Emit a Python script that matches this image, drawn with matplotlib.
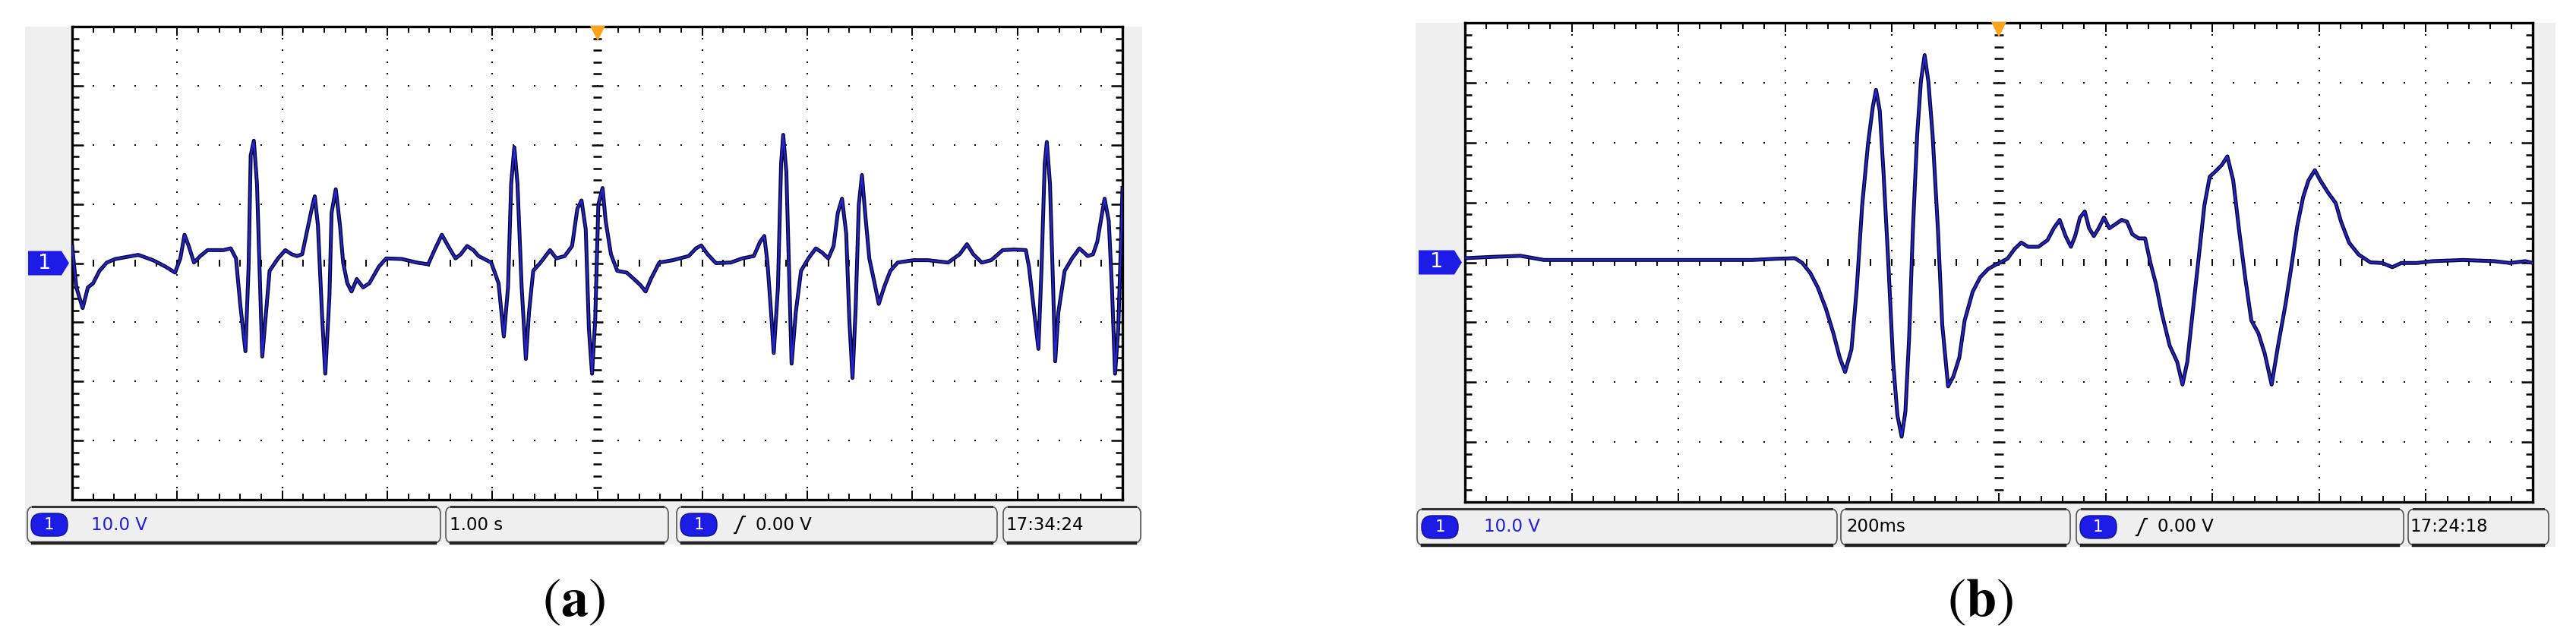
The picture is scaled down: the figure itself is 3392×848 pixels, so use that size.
import numpy as np
import matplotlib
matplotlib.use("Agg")
import matplotlib.pyplot as plt
from matplotlib import font_manager
from matplotlib.patches import Rectangle, FancyBboxPatch, Polygon
from matplotlib.lines import Line2D
from matplotlib.transforms import Affine2D

W, H = 3392, 848

# ---- datos leidos de la pantalla del osciloscopio ----
# (a) 1.00 s/div, tiempo desde el borde izquierdo (s), tension (V)
t_a = [0.00, 0.04, 0.10, 0.15, 0.20, 0.26, 0.33, 0.41, 0.63, 0.77,
       0.89, 0.98, 1.03, 1.07, 1.11, 1.16, 1.22, 1.29, 1.44, 1.51,
       1.56, 1.60, 1.65, 1.68, 1.70, 1.73, 1.76, 1.79, 1.81, 1.85,
       1.88, 1.96, 2.03, 2.09, 2.14, 2.19, 2.24, 2.29, 2.31, 2.34,
       2.38, 2.41, 2.45, 2.47, 2.51, 2.55, 2.58, 2.62, 2.66, 2.71,
       2.77, 2.83, 2.92, 2.99, 3.14, 3.28, 3.39, 3.45, 3.52, 3.58,
       3.65, 3.70, 3.76, 3.82, 3.87, 3.99, 4.06, 4.11, 4.15, 4.18,
       4.21, 4.24, 4.28, 4.32, 4.35, 4.39, 4.46, 4.55, 4.61, 4.69,
       4.76, 4.81, 4.85, 4.89, 4.92, 4.95, 4.98, 5.01, 5.05, 5.08,
       5.13, 5.19, 5.28, 5.35, 5.41, 5.46, 5.51, 5.59, 5.72, 5.87,
       5.94, 5.99, 6.05, 6.13, 6.27, 6.38, 6.49, 6.55, 6.59, 6.62,
       6.66, 6.68, 6.72, 6.75, 6.77, 6.80, 6.83, 6.85, 6.89, 6.94,
       7.01, 7.08, 7.14, 7.20, 7.25, 7.29, 7.33, 7.37, 7.40, 7.43,
       7.46, 7.49, 7.52, 7.55, 7.59, 7.64, 7.68, 7.73, 7.79, 7.86,
       8.01, 8.15, 8.34, 8.45, 8.52, 8.58, 8.66, 8.75, 8.86, 8.97,
       9.08, 9.11, 9.16, 9.20, 9.23, 9.26, 9.28, 9.31, 9.34, 9.36,
       9.39, 9.45, 9.52, 9.59, 9.67, 9.72, 9.76, 9.80, 9.83, 9.87,
       9.90, 9.93, 9.96, 9.99, 10.00]
v_a = [2.9, -4.1, -7.6, -4.1, -3.4, -1.3, 0.1, 0.7, 1.4, 0.5,
       -0.6, -1.6, 0.8, 4.8, 2.9, 0.1, 1.2, 2.2, 2.2, 2.5,
       0.8, -6.9, -14.9, -0.6, 18.2, 20.7, 13.4, -4.1, -15.8, -7.6,
       -1.3, 0.8, 2.2, 1.5, 1.2, 1.5, 5.7, 9.9, 11.3, 6.4,
       -9.0, -18.7, -5.5, 8.5, 12.5, 6.4, 0.1, -3.4, -4.8, -2.7,
       -4.1, -3.4, -0.6, 0.8, 0.7, 0.1, -0.2, 2.2, 4.8, 2.9,
       0.8, 1.5, 2.9, 2.2, 1.2, 0.1, -3.4, -12.4, -4.1, 13.4,
       19.6, 13.4, -4.1, -16.2, -8.3, -1.3, 0.1, 2.2, 0.8, 1.2,
       2.9, 9.2, 10.6, 5.7, -11.1, -18.7, -9.7, 9.9, 12.7, 7.1,
       1.5, -1.3, -1.6, -2.7, -3.7, -4.8, -2.7, 0.1, 0.5, 1.2,
       2.5, 3.0, 1.5, 0.0, 0.1, 0.8, 1.2, 3.6, 4.6, 0.1,
       -9.7, -15.2, -4.1, 16.8, 21.7, 15.4, -4.1, -17.0, -8.3, -1.3,
       0.8, 2.5, 1.8, 0.8, 2.9, 8.5, 10.9, 5.0, -9.7, -19.4,
       -7.6, 9.9, 14.9, 8.5, 0.8, -3.4, -6.9, -4.1, -1.3, 0.1,
       0.5, 0.5, 0.1, 1.5, 3.2, 1.5, 0.1, 0.5, 2.2, 2.3,
       2.2, -0.6, -8.3, -14.5, -0.6, 16.8, 20.5, 13.4, -4.1, -16.6,
       -8.3, -1.3, 0.8, 2.5, 1.2, 1.5, 3.6, 7.8, 10.9, 7.1,
       -4.1, -18.7, -11.1, 5.7, 12.7]

# (b) 200 ms/div, tiempo desde el borde izquierdo (ms), tension (V)
t_b = [0, 46, 104, 148, 249, 394, 538, 582, 618, 632,
       647, 661, 676, 690, 702, 712, 724, 734, 744, 755,
       764, 770, 777, 784, 793, 802, 810, 818, 825, 832,
       839, 847, 854, 861, 868, 876, 886, 894, 905, 915,
       926, 936, 951, 965, 980, 994, 1016, 1030, 1042, 1055,
       1074, 1091, 1103, 1114, 1125, 1135, 1143, 1152, 1161, 1169,
       1178, 1187, 1197, 1207, 1219, 1230, 1240, 1250, 1262, 1274,
       1284, 1294, 1305, 1320, 1334, 1344, 1353, 1363, 1375, 1385,
       1395, 1407, 1418, 1428, 1439, 1450, 1462, 1473, 1486, 1498,
       1511, 1523, 1537, 1549, 1559, 1570, 1580, 1592, 1602, 1617,
       1631, 1641, 1656, 1674, 1696, 1718, 1737, 1754, 1783, 1812,
       1870, 1928, 1957, 1986, 2000]
v_b = [0.7, 0.9, 1.1, 0.4, 0.4, 0.4, 0.4, 0.6, 0.7, -0.1,
       -1.8, -4.2, -7.7, -11.8, -15.9, -18.3, -14.5, -4.2, 9.5, 19.8,
       26.0, 28.8, 25.3, 15.0, -0.1, -16.6, -25.5, -29.1, -24.9, -12.5,
       5.4, 21.2, 30.2, 34.6, 30.2, 21.2, 5.4, -10.4, -20.7, -19.0,
       -15.9, -9.7, -4.9, -2.5, -1.1, -0.4, 0.6, 2.3, 3.3, 2.6,
       2.6, 3.7, 5.7, 7.1, 4.4, 2.6, 4.4, 7.5, 8.5, 5.7,
       4.4, 5.7, 7.5, 5.7, 6.4, 7.1, 6.8, 4.7, 4.0, 4.0,
       -0.1, -3.5, -8.4, -13.9, -16.6, -20.4, -16.6, -8.4, 1.3, 9.5,
       14.3, 15.3, 16.3, 17.7, 13.7, 5.4, -2.9, -9.7, -11.8, -15.2,
       -20.4, -13.9, -7.0, -0.1, 6.1, 10.9, 13.7, 15.4, 13.7, 11.6,
       9.9, 6.8, 3.3, 1.3, 0.0, -0.1, -0.8, -0.1, -0.1, 0.2,
       0.4, 0.2, -0.1, 0.2, -0.1]

volts_div = 10.0
seg_div_a = 1.0
ms_div_b = 200.0

textos_a = ["10.0 V", "1.00 s", "0.00 V", "17:34:24"]
textos_b = ["10.0 V", "200ms", "0.00 V", "17:24:18"]

# fuente estrecha si esta instalada
nombres = {f.name for f in font_manager.fontManager.ttflist}
if "Liberation Sans Narrow" in nombres:
    FUENTE, TAM = "Liberation Sans Narrow", 21
else:
    FUENTE, TAM = "DejaVu Sans", 16.5
plt.rcParams["mathtext.fontset"] = "stix"

fig = plt.figure(figsize=(W / 100, H / 100), dpi=100)
fig.patch.set_facecolor("white")
pix = Affine2D().scale(0.01) + fig.dpi_scale_trans  # pixeles desde abajo-izquierda

AZUL = "#1c1ce6"


def caja_fig(x0, y0, x1, y1):
    return [x0 / W, 1 - y1 / H, (x1 - x0) / W, (y1 - y0) / H]


def pantalla(ax):
    ax.set_xlim(0, 10)
    ax.set_ylim(-4, 4)
    ax.set_xticks([])
    ax.set_yticks([])
    ax.set_facecolor("white")
    for s in ax.spines.values():
        s.set_linewidth(2.4)
        s.set_color("black")
    xs = np.round(np.arange(0, 10.001, 0.2), 2)
    ys = np.round(np.arange(-4, 4.001, 0.2), 2)
    # reticula punteada
    for x in range(1, 10):
        if x != 5:
            ax.plot(np.full(len(ys), x), ys, "s", ms=1.9, color="k", mew=0)
    for y in range(-3, 4):
        if y != 0:
            ax.plot(xs, np.full(len(xs), y), "s", ms=1.9, color="k", mew=0)
    # ejes centrales con marcas
    mayor_x = np.isclose(xs % 1, 0) | np.isclose(xs % 1, 1)
    mayor_y = np.isclose(ys % 1, 0) | np.isclose(ys % 1, 1)
    ax.vlines(xs, -0.06, 0.06, color="k", lw=1.4)
    lx = np.where(mayor_y, 0.055, 0.04)
    ax.hlines(ys, 5 - lx, 5 + lx, color="k", lw=1.8)
    # marcas de los bordes
    ly = np.where(mayor_x, 0.15, 0.1)
    ax.vlines(xs, 4 - ly, 4, color="k", lw=1.4)
    ax.vlines(xs, -4, -4 + ly, color="k", lw=1.4)
    lb = np.where(mayor_y, 0.11, 0.065)
    ax.hlines(ys, 0, lb, color="k", lw=1.8)
    ax.hlines(ys, 10 - lb, 10, color="k", lw=1.8)
    # disparo
    ax.plot(5, 3.88, marker="v", ms=15, color="#ffa31a", mew=0, clip_on=False, zorder=5)


def icono_flanco(x, yc):
    fig.add_artist(Line2D([x, x + 2, x + 11, x + 14],
                          [H - yc - 11, H - yc - 11, H - yc + 11, H - yc + 11],
                          color="black", lw=1.6, transform=pix, zorder=4))


def pastilla(x0, x1, yc):
    h = 30
    fig.add_artist(FancyBboxPatch((x0, H - yc - h / 2), x1 - x0, h,
                                  boxstyle="round,pad=0,rounding_size=14",
                                  fc=AZUL, ec="#10108a", lw=1, transform=pix, zorder=3))
    fig.text((x0 + x1) / 2, H - yc, "1", transform=pix, color="white",
             family=FUENTE, fontsize=TAM - 1, ha="center", va="center", zorder=4)


def panel(frame, gris, cajas, ys, tx, pill, flanco, textos, etiqueta, lx,
          tiempo, tension, escala_t):
    x0, y0, x1, y1 = frame
    # fondo gris del instrumento
    fig.add_artist(Rectangle((gris[0], H - gris[3]), gris[2] - gris[0], gris[3] - gris[1],
                             fc="#efefef", ec="none", transform=pix, zorder=-1))
    ax = fig.add_axes(caja_fig(*frame))
    pantalla(ax)
    x = np.array(tiempo) / escala_t
    y = np.array(tension) / volts_div
    ax.plot(x, y, color="#050520", lw=3.6, solid_joinstyle="round", zorder=3)
    ax.plot(x, y, color="#2424dc", lw=1.6, zorder=4)

    # marcador del canal 1
    yc = (y0 + y1) / 2
    mx0 = gris[0] + 4
    pts = [(mx0, H - yc - 16), (x0 - 14, H - yc - 16), (x0 - 4, H - yc),
           (x0 - 14, H - yc + 16), (mx0, H - yc + 16)]
    fig.add_artist(Polygon(pts, closed=True, fc=AZUL, ec="none", transform=pix, zorder=3))
    fig.text((mx0 + x0 - 14) / 2, H - yc, "1", transform=pix, color="white",
             family=FUENTE, fontsize=TAM + 3, ha="center", va="center", zorder=4)

    # barra de estado
    sy0, sy1 = ys
    scy = (sy0 + sy1) / 2
    for bx0, bx1 in cajas:
        fig.add_artist(FancyBboxPatch((bx0, H - sy1), bx1 - bx0, sy1 - sy0,
                                      boxstyle="round,pad=0,rounding_size=9",
                                      fc="#efefef", ec="#555555", lw=1.2,
                                      transform=pix, zorder=2))
        fig.add_artist(Line2D([bx0 + 7, bx1 - 7], [H - sy0, H - sy0], color="#333333",
                              lw=2.2, transform=pix, zorder=3))
        fig.add_artist(Line2D([bx0 + 7, bx1 - 7], [H - sy1, H - sy1], color="#222222",
                              lw=3.2, transform=pix, zorder=3))
    pastilla(pill[0], pill[0] + 48, scy)
    pastilla(pill[1], pill[1] + 48, scy)
    icono_flanco(flanco, scy)
    colores = [AZUL, "black", "black", "black"]
    for xt, txt, c in zip(tx, textos, colores):
        fig.text(xt, H - scy, txt, transform=pix, color=c, family=FUENTE,
                 fontsize=TAM, ha="left", va="center", zorder=4)

    fig.text(lx, H - 795, r"($\mathbf{" + etiqueta + r"}$)", transform=pix,
             family="STIXGeneral", fontsize=52, ha="center", va="center")
    return ax


panel(frame=(95, 35, 1478, 658), gris=(33, 35, 1504, 717),
      cajas=[(36, 580), (587, 880), (891, 1313), (1321, 1502)], ys=(667, 715),
      tx=[120, 592, 995, 1324], pill=(41, 896), flanco=967, textos=textos_a,
      etiqueta="a", lx=755, tiempo=t_a, tension=v_a, escala_t=seg_div_a)

panel(frame=(1929, 30, 3335, 661), gris=(1864, 30, 3365, 720),
      cajas=[(1866, 2419), (2424, 2726), (2734, 3165), (3171, 3356)], ys=(670, 718),
      tx=[1954, 2431, 2841, 3173], pill=(1872, 2739), flanco=2813, textos=textos_b,
      etiqueta="b", lx=2607, tiempo=t_b, tension=v_b, escala_t=ms_div_b)

fig.savefig("out.png", dpi=100, facecolor="white")
